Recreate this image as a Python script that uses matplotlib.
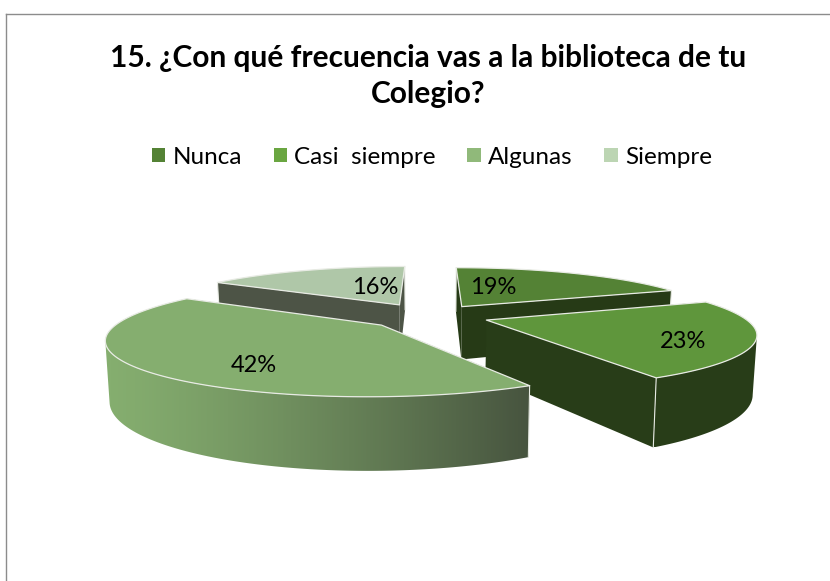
import numpy as np
import matplotlib
matplotlib.use("Agg")
import matplotlib.pyplot as plt
from matplotlib.patches import Patch, Polygon
from matplotlib.colors import LinearSegmentedColormap

title = "15. ¿Con qué frecuencia vas a la biblioteca de tu\nColegio?"
categories = ["Nunca", "Casi  siempre", "Algunas", "Siempre"]
values = [19, 23, 42, 16]
top_colors = ["#548235", "#5f963c", "#85ae6f", "#afc7a8"]
legend_colors = ["#548235", "#6aa641", "#90b97a", "#bcd5b3"]
wall_colors = ["#263a16", "#283d18", "#85ae6f", "#4d5446"]
wall_end_colors = ["#263a16", "#283d18", "#47543f", "#4d5446"]
label_pos = [(493, 288), (683, 341), (254, 365), (375, 287)]
explode = [0.23, 0.23, 0.25, 0.26]

CX, CY = 430, 316
R, TILT, K, DEPTH, TAPER = 256, 0.2, 0.22, 55, 0.987

fig = plt.figure(figsize=(8.30, 5.81), dpi=100)
ax = fig.add_axes([0, 0, 1, 1])
ax.set_xlim(0, 830)
ax.set_ylim(581, 0)
ax.autoscale(False)
ax.axis("off")


def project(X, Y, bottom=False):
    w = 1 / (1 + K * Y)
    x = R * X * w * (TAPER if bottom else 1)
    y = -R * TILT * Y * w + (DEPTH * w if bottom else 0)
    return CX + x, CY + y


frac = np.array(values) / sum(values)
edges = np.concatenate([[0], np.cumsum(frac)]) * 2 * np.pi
WHITE = "#e8ebe4"
order = [3, 0, 1, 2]


def draw_slice(i):
    z = 2 + 0.1 * order.index(i)
    t0, t1 = edges[i], edges[i + 1]
    mid = (t0 + t1) / 2
    ox, oy = explode[i] * np.sin(mid), explode[i] * np.cos(mid)
    th = np.linspace(t0, t1, 200)
    X, Y = ox + np.sin(th), oy + np.cos(th)
    tx, ty = project(X, Y)
    bx, by = project(X, Y, True)
    a0x, a0y = project(ox, oy)
    a1x, a1y = project(ox, oy, True)
    # radial walls
    for j in (0, -1):
        ax.add_patch(Polygon([(a0x, a0y), (tx[j], ty[j]), (bx[j], by[j]), (a1x, a1y)],
                             fc=wall_end_colors[i], ec="none", zorder=z))
    # outer wall with a horizontal gradient: only the part that faces the viewer
    front = np.gradient(tx) <= 0
    if front.sum() > 1:
        fx, fy, gx, gy = tx[front], ty[front], bx[front], by[front]
        wall = Polygon(list(zip(fx, fy)) + list(zip(gx[::-1], gy[::-1])), fc="none", ec="none", zorder=z)
        ax.add_patch(wall)
        cmap = LinearSegmentedColormap.from_list("w", [wall_colors[i], wall_end_colors[i]])
        x0, x1 = min(fx.min(), gx.min()), max(fx.max(), gx.max())
        y0, y1 = min(fy.min(), gy.min()), max(fy.max(), gy.max())
        im = ax.imshow(np.linspace(0, 1, 600)[None, :] ** 1.25, extent=(x0, x1, y1, y0), cmap=cmap,
                       aspect="auto", zorder=z + 0.01, interpolation="nearest", vmin=0, vmax=1)
        im.set_clip_path(wall)
    # vertical corner lines
    for j in (0, -1):
        ax.plot([tx[j], bx[j]], [ty[j], by[j]], color=WHITE, lw=0.8, zorder=z + 0.03)
    # top face
    pts = [(a0x, a0y)] + list(zip(tx, ty))
    ax.add_patch(Polygon(pts, closed=True, fc=top_colors[i], ec=WHITE, lw=0.9,
                         joinstyle="round", zorder=z + 0.05))


for idx in order:
    draw_slice(idx)

for val, (lx, ly) in zip(values, label_pos):
    ax.text(lx, ly, f"{val}%", ha="center", va="center", fontsize=17,
            family="Lato", color="black", zorder=5)

ax.text(428, 76, title, ha="center", va="center", fontsize=21.5, fontweight="bold",
        family="Lato", color="black", linespacing=1.32)

# chart frame
ax.plot([6, 6], [581, 14], color="#8c8c8c", lw=1.0, zorder=1)
ax.plot([6, 830], [14, 14], color="#8c8c8c", lw=1.0, zorder=1)

handles = [Patch(fc=c, ec="none") for c in legend_colors]
leg = ax.legend(handles, categories, ncol=4, loc="center", bbox_to_anchor=(432 / 830, 1 - 157 / 581),
                frameon=False, prop={"family": "Lato", "size": 17.5}, handlelength=0.55, handleheight=0.55,
                handletextpad=0.3, columnspacing=1.3, borderpad=0)

fig.savefig("out.png", dpi=100)
